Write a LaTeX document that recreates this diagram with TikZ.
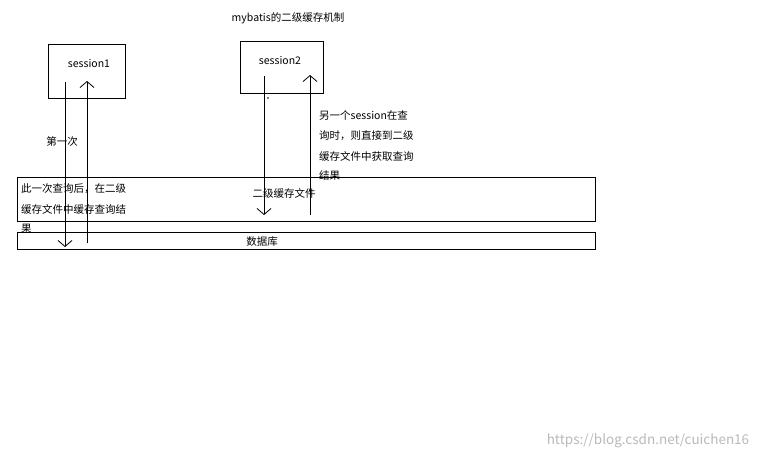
\documentclass[tikz,border=0pt]{standalone}
\usepackage{fontspec}
\setmainfont{Noto Sans CJK SC}
\usetikzlibrary{arrows.meta}
\begin{document}
\begin{tikzpicture}[x=1pt,y=-1pt,
  box/.style={draw,line width=0.8pt},
  txt/.style={font=\fontsize{10.5}{12}\selectfont,inner sep=0pt},
  arr/.style={line width=0.8pt,-{Straight Barb[length=6pt,width=14pt]}}]
\useasboundingbox (0,0) rectangle (768,460);
\draw[box] (48,44) rectangle (125,98);
\draw[box] (240,41) rectangle (323,93);
\draw[box] (17,177) rectangle (595,221);
\draw[box] (17,232) rectangle (595,249);
\node[txt] (title) at (288,18) {mybatis的二级缓存机制};
\node[txt] (s1) at (89,63) {session1};
\node[txt] (s2) at (280,61) {session2};
\node[txt] (first) at (62,142) {第一次};
\node[txt,anchor=west] (l1) at (21,189) {此一次查询后，在二级};
\node[txt,anchor=west] (l2) at (21,209) {缓存文件中缓存查询结};
\node[txt,anchor=west] (l3) at (21,229) {果};
\node[txt] (cache) at (284,193) {二级缓存文件};
\node[txt,anchor=west] (r1) at (319,116) {另一个session在查};
\node[txt,anchor=west] (r2) at (319,136) {询时，则直接到二级};
\node[txt,anchor=west] (r3) at (319,156) {缓存文件中获取查询};
\node[txt,anchor=west] (r4) at (319,176) {结果};
\node[txt] (db) at (262,242) {数据库};
\node[txt,text=gray!55,font=\fontsize{13.5}{15}\selectfont] (wm) at (648,441) {https://blog.csdn.net/cuichen16};
\fill (268,98) circle (0.8);
\coordinate (a1) at (65,82); \coordinate (a2) at (65,247);
\coordinate (b1) at (87,243); \coordinate (b2) at (87,81);
\coordinate (c1) at (264,76); \coordinate (c2) at (264,215);
\coordinate (d1) at (310,215); \coordinate (d2) at (310,75);
\draw[arr] (a1) -- (a2);
\draw[arr] (b1) -- (b2);
\draw[arr] (c1) -- (c2);
\draw[arr] (d1) -- (d2);
\end{tikzpicture}
\end{document}
